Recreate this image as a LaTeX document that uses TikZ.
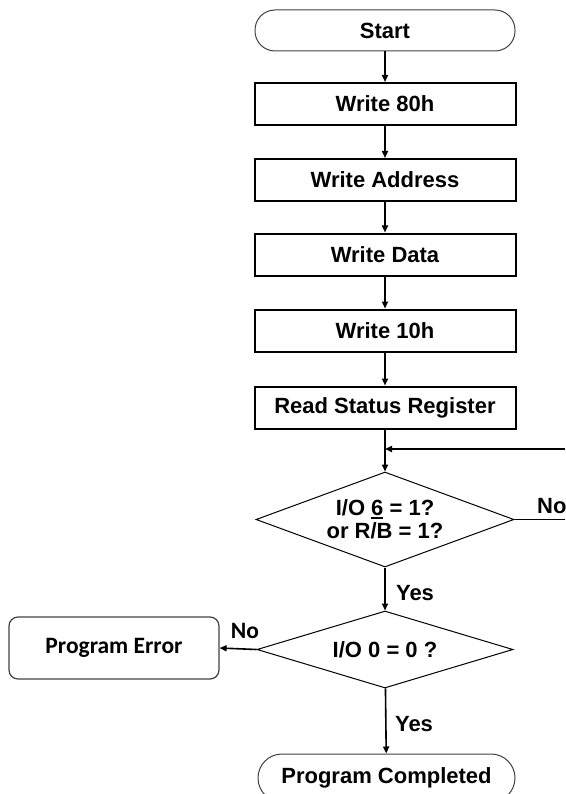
\documentclass[tikz,border=0pt]{standalone}
\usepackage{fontspec}
\setmainfont{Liberation Sans}
\newfontfamily\calfont{Carlito}
\usetikzlibrary{arrows.meta,shapes.geometric}
\newcommand\ulsix{\setbox0\hbox{6}\rlap{\rule[-3.2pt]{\wd0}{1.8pt}}6}
\begin{document}
\begin{tikzpicture}[x=1pt,y=-1pt,
  txt/.style={font=\fontsize{22}{23}\selectfont\bfseries},
  caltxt/.style={font=\calfont\fontsize{23.5}{24}\selectfont\bfseries},
  box/.style={txt,draw,line width=2pt,minimum width=261pt,minimum height=42pt,inner sep=0pt},
  term/.style={txt,draw=black!75,line width=1pt,rounded corners=20pt,minimum width=260pt,minimum height=41pt,inner sep=0pt},
  dec/.style={txt,draw,line width=1pt,diamond,inner sep=0pt,aspect=2.7,align=center},
  flow/.style={line width=1.6pt,-{Triangle[length=7pt,width=6pt]}},
  plain/.style={line width=1.6pt},
  lbl/.style={txt,inner sep=0pt},
]
\useasboundingbox (0,0) rectangle (565,794);
\node[term] (start) at (385,30.5) {Start};
\node[box] (w80) at (385,104) {Write 80h};
\node[box] (waddr) at (385,180) {Write Address};
\node[box] (wdata) at (385,254.5) {Write Data};
\node[box] (w10) at (385,330.5) {Write 10h};
\node[box] (rsr) at (385,407.5) {Read Status Register};
\node[dec,minimum width=258pt,minimum height=95pt] (d1) at (385,519.5) {I/O \ulsix{} = 1?\\or R/B = 1?};
\node[dec,minimum width=256pt,minimum height=77pt] (d2) at (385,649.5) {I/O 0 = 0 ?};
\node[caltxt,draw=black!75,line width=1.2pt,rounded corners=9pt,minimum width=210pt,minimum height=62pt,inner sep=0pt] (perr) at (114,648) {Program Error};
\node[term,minimum width=257pt,minimum height=48pt,rounded corners=24pt] (pcomp) at (386.5,778) {Program Completed};
\node[lbl,anchor=west] (no1) at (537,506) {No};
\node[lbl] (yes1) at (415,593) {Yes};
\node[lbl,caltxt] (no2) at (245,631) {No};
\node[lbl] (yes2) at (414,724) {Yes};
\coordinate (loopR) at (565,449);
\coordinate (noR) at (565,519.5);
\draw[flow] (start) -- (w80);
\draw[flow] (w80) -- (waddr);
\draw[flow] (waddr) -- (wdata);
\draw[flow] (wdata) -- (w10);
\draw[flow] (w10) -- (rsr);
\draw[flow] (rsr) -- (d1);
\draw[plain] (d1.east) -- (noR);
\draw[flow] (loopR) -- (loopR -| rsr.south);
\draw[flow] (d1) -- (d2);
\draw[flow] (d2.west) -- (perr.east);
\draw[flow] (d2) -- (pcomp);
\end{tikzpicture}
\end{document}
